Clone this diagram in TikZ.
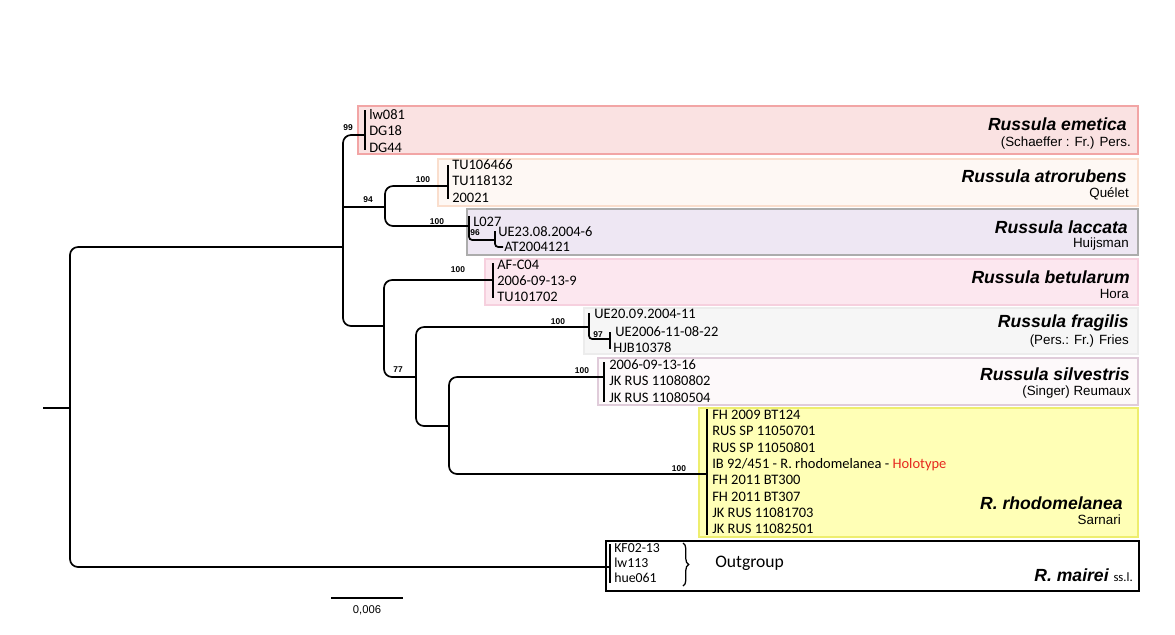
\documentclass[tikz,border=0pt]{standalone}
\usepackage{fontspec}
\setmainfont{Carlito}
\newfontfamily\arialfont{Liberation Sans}
\usetikzlibrary{positioning,decorations.pathreplacing}
\definecolor{emefill}{RGB}{250,226,226}
\definecolor{emeline}{RGB}{242,165,165}
\definecolor{atrofill}{RGB}{254,248,244}
\definecolor{atroline}{RGB}{250,222,205}
\definecolor{laccfill}{RGB}{238,231,243}
\definecolor{laccline}{RGB}{172,172,172}
\definecolor{betufill}{RGB}{252,231,239}
\definecolor{betuline}{RGB}{246,208,222}
\definecolor{fragfill}{RGB}{246,246,246}
\definecolor{fragline}{RGB}{236,236,236}
\definecolor{silvfill}{RGB}{253,249,250}
\definecolor{silvline}{RGB}{224,204,218}
\definecolor{rhodfill}{RGB}{255,255,182}
\definecolor{rhodline}{RGB}{238,238,110}
\definecolor{holored}{RGB}{230,40,30}
\tikzset{
  branch/.style={line width=1.2pt,rounded corners=2mm},
  twig/.style={line width=1.2pt,rounded corners=0.8mm},
  tipbar/.style={line width=1.7pt},
  cladebox/.style={line width=1.5pt},
  leaves/.style={anchor=west,inner sep=0pt,align=left,font=\fontsize{10.3}{11.6}\selectfont},
  boot/.style={inner sep=0pt,font=\arialfont\bfseries\fontsize{6}{7}\selectfont},
  species/.style={anchor=east,inner sep=0pt,font=\arialfont\bfseries\itshape\fontsize{12.5}{14}\selectfont},
  author/.style={anchor=east,inner sep=0pt,font=\arialfont\fontsize{9.5}{11}\selectfont},
}
\begin{document}
\begin{tikzpicture}[x=0.025cm,y=-0.025cm]
\useasboundingbox (0,0) rectangle (1175,634);
% clade boxes
\draw[cladebox,fill=emefill,draw=emeline] (358,106) rectangle (1138,154);
\draw[cladebox,fill=atrofill,draw=atroline] (438,159) rectangle (1138,206);
\draw[cladebox,fill=laccfill,draw=laccline] (467,209) rectangle (1138,255);
\draw[cladebox,fill=betufill,draw=betuline] (485,259) rectangle (1138,305);
\draw[cladebox,fill=fragfill,draw=fragline] (584,308) rectangle (1138,354);
\draw[cladebox,fill=silvfill,draw=silvline] (598,358) rectangle (1138,405);
\draw[cladebox,fill=rhodfill,draw=rhodline] (699,408) rectangle (1138,537);
\draw[line width=0.8pt,fill=white] (606,541) rectangle (1139,591);
% tips
\coordinate(eme)at(365,135);
\coordinate(atro)at(448,186);
\coordinate(lacc)at(469,226);
\coordinate(betu)at(493,280);
\coordinate(frag)at(589,327);
\coordinate(silv)at(604,377);
\coordinate(rhod)at(707,474);
\coordinate(outg)at(610,567);
% inner nodes
\coordinate(root)at(43,408);
\coordinate(n0)at(70,408);
\coordinate(nA)at(343,247);
\coordinate(nB)at(385,207);
\coordinate(nC)at(384,326);
\coordinate(nD)at(416,377);
\coordinate(nE)at(449,426);
% branches
\draw[branch](root)--(n0);
\draw[branch](n0)|-(nA);
\draw[branch](n0)|-(outg);
\draw[branch](eme)-|(343,326)--(nC);
\draw[branch](343,207)--(nB);
\draw[branch](atro)-|(385,226)--(lacc);
\draw[branch](betu)-|(384,377)--(nD);
\draw[branch](frag)-|(416,426)--(nE);
\draw[branch](silv)-|(449,474)--(rhod);
\draw[twig](469,216)--(469,240)--(495,240);
\draw[twig](495,231)--(495,247)--(503,247);
\draw[twig](589,313)--(589,339)--(610,339);
\draw[tipbar](610,332)--(610,349);
\draw[tipbar](365,110)--(365,150);
\draw[tipbar](448,165)--(448,199);
\draw[tipbar](493,263)--(493,298);
\draw[tipbar](604,362)--(604,402);
\draw[tipbar](707,409)--(707,535);
\draw[tipbar](610,544)--(610,583);
% support values
\node[boot](b99)at(348,128){99};
\node[boot](b94)at(368,200){94};
\node[boot](b100a)at(423,180){100};
\node[boot](b100b)at(437,222){100};
\node[boot](b96)at(475,233){96};
\node[boot](b100c)at(458,270){100};
\node[boot](b100d)at(558,322){100};
\node[boot](b97)at(598,335){97};
\node[boot](b77)at(398,370){77};
\node[boot](b100e)at(582,371){100};
\node[boot](b100f)at(679,469){100};
% leaves
\node[leaves](emeleaf)at(369,131){lw081\\DG18\\DG44};
\node[leaves](atroleaf)at(452,181){TU106466\\TU118132\\20021};
\node[leaves](l027)at(473,222){L027};
\node[leaves](ue23)at(498,232){UE23.08.2004-6};
\node[leaves](at20)at(504,247){AT2004121};
\node[leaves](betuleaf)at(497,281){AF-C04\\2006-09-13-9\\TU101702};
\node[leaves](ue20)at(594,314){UE20.09.2004-11};
\node[leaves](ue2006)at(615,332){UE2006-11-08-22};
\node[leaves](hjb)at(613,348){HJB10378};
\node[leaves](silvleaf)at(609,381){2006-09-13-16\\JK RUS 11080802\\JK RUS 11080504};
\node[leaves](rhodleaf)at(712,472){FH 2009 BT124\\RUS SP 11050701\\RUS SP 11050801\\IB 92/451 - R. rhodomelanea - \textcolor{holored}{Holotype}\\FH 2011 BT300\\FH 2011 BT307\\JK RUS 11081703\\JK RUS 11082501};
\node[leaves,font=\fontsize{9.8}{10.8}\selectfont](outleaf)at(614,563){KF02-13\\lw113\\hue061};
\draw[line width=0.9pt,decorate,decoration={brace,amplitude=4pt}](683,543)--(683,586);
\node[anchor=west,inner sep=0pt,font=\fontsize{12.5}{14}\selectfont](outlbl)at(715,563){Outgroup};
% species names
\node[species](emesp)at(1127,124){Russula emetica};
\node[author](emeau)at(1131,143){(Schaeffer : Fr.) Pers.};
\node[species](atrosp)at(1127,176){Russula atrorubens};
\node[author](atroau)at(1129,194){Quélet};
\node[species](laccsp)at(1128,227){Russula laccata};
\node[author](laccau)at(1129,244){Huijsman};
\node[species](betusp)at(1130,277){Russula betularum};
\node[author](betuau)at(1129,294){Hora};
\node[species](fragsp)at(1129,323){Russula fragilis};
\node[author](fragau)at(1129,341){(Pers.: Fr.) Fries};
\node[species](silvsp)at(1130,374){Russula silvestris};
\node[author](silvau)at(1131,392){(Singer) Reumaux};
\node[species](rhodsp)at(1123,503){R. rhodomelanea};
\node[author](rhodau)at(1121,520){Sarnari};
\node[species](mairsp)at(1133,575){R. mairei {\normalfont\upshape\mdseries\fontsize{9}{10}\selectfont ss.l.}};
% scale
\coordinate(s1)at(331,598);
\coordinate(s2)at(403,598);
\draw[line width=1pt](s1)--(s2)node[midway,below=5pt,inner sep=0pt,font=\arialfont\fontsize{8}{9}\selectfont]{0,006};
\end{tikzpicture}
\end{document}
